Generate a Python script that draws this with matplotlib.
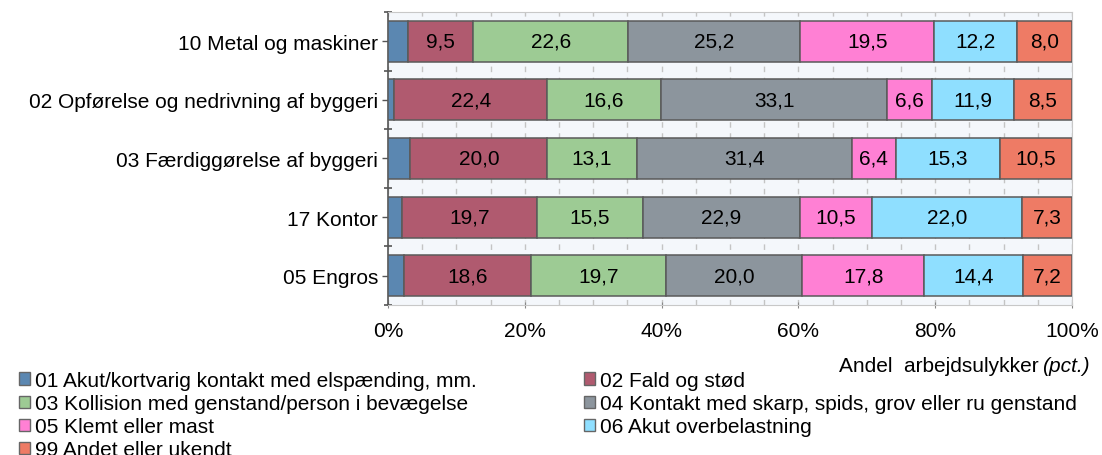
import numpy as np
import matplotlib.pyplot as plt
from matplotlib.patches import Patch

plt.rcParams["font.family"] = ["Liberation Sans", "DejaVu Sans"]

categories = [
    "10 Metal og maskiner",
    "02 Opførelse og nedrivning af byggeri",
    "03 Færdiggørelse af byggeri",
    "17 Kontor",
    "05 Engros",
]
series_names = [
    "01 Akut/kortvarig kontakt med elspænding, mm.",
    "02 Fald og stød",
    "03 Kollision med genstand/person i bevægelse",
    "04 Kontakt med skarp, spids, grov eller ru genstand",
    "05 Klemt eller mast",
    "06 Akut overbelastning",
    "99 Andet eller ukendt",
]
# one list per category, in series order (pct.)
values = {
    "10 Metal og maskiner": [3.0, 9.5, 22.6, 25.2, 19.5, 12.2, 8.0],
    "02 Opførelse og nedrivning af byggeri": [0.9, 22.4, 16.6, 33.1, 6.6, 11.9, 8.5],
    "03 Færdiggørelse af byggeri": [3.3, 20.0, 13.1, 31.4, 6.4, 15.3, 10.5],
    "17 Kontor": [2.1, 19.7, 15.5, 22.9, 10.5, 22.0, 7.3],
    "05 Engros": [2.3, 18.6, 19.7, 20.0, 17.8, 14.4, 7.2],
}
colors = ["#5b87b1", "#b05a6f", "#9dcb94", "#8c959d", "#ff80d4", "#8fdfff", "#ee7b65"]

FS = 15


def main():
    fig = plt.figure(figsize=(11.02, 4.56), dpi=100)
    ax = fig.add_axes([0.352, 0.329, 0.6208, 0.6425])
    ax.set_facecolor("#f4f7fb")

    y = np.arange(len(categories))
    data = np.array([values[c] for c in categories])
    left = np.zeros(len(categories))
    for i, name in enumerate(series_names):
        bars = ax.barh(y, data[:, i], left=left, height=0.7, color=colors[i],
                       edgecolor="#5a5a5a", linewidth=1.1, zorder=3, label=name)
        if i > 0:
            labels = [f"{v:.1f}".replace(".", ",") for v in data[:, i]]
            ax.bar_label(bars, labels=labels, label_type="center", fontsize=FS, zorder=4)
        left += data[:, i]

    ax.set_xlim(0, 100)
    ax.set_ylim(len(categories) - 0.5, -0.5)
    ax.set_yticks(y)
    ax.set_yticklabels(categories, fontsize=FS)
    ax.set_yticks(np.arange(len(categories) + 1) - 0.5, minor=True)
    ax.tick_params(axis="y", which="major", length=4, width=1, color="#555555", pad=3)
    ax.tick_params(axis="y", which="minor", length=6, width=1.2, color="#555555", direction="inout")

    ax.set_xticks(np.arange(0, 101, 20))
    ax.set_xticklabels([f"{v}%" for v in range(0, 101, 20)], fontsize=FS)
    ax.set_xticks(np.arange(0, 101, 5), minor=True)
    ax.tick_params(axis="x", which="major", length=5, color="#888888", pad=9, direction="inout")
    ax.tick_params(axis="x", which="minor", length=0)
    ax.grid(axis="x", which="both", color="#c4c4c4", linestyle=(0, (4, 4)), linewidth=1, zorder=0)

    for side in ["top", "right", "bottom"]:
        ax.spines[side].set_color("#c8c8c8")
    ax.spines["left"].set_color("#555555")
    ax.spines["left"].set_linewidth(1.2)

    # x-axis title: plain part + italic "(pct.)", right aligned
    ty = 1 - 366 / 456
    it = fig.text(1090 / 1102, ty, "(pct.)", ha="right", va="center",
                  fontsize=FS, fontstyle="italic")
    fig.canvas.draw()
    bb = it.get_window_extent().transformed(fig.transFigure.inverted())
    fig.text(bb.x0 - 4 / 1102, ty, "Andel  arbejdsulykker", ha="right", va="center", fontsize=FS)

    handles = [Patch(facecolor=colors[i], edgecolor="#666666", linewidth=1) for i in range(len(series_names))]
    leg_kw = dict(frameon=False, fontsize=FS, handlelength=0.55, handleheight=0.55,
                  handletextpad=0.2, labelspacing=0.2, borderpad=0, borderaxespad=0)
    left_idx = [0, 2, 4, 6]
    right_idx = [1, 3, 5]
    fig.legend([handles[i] for i in left_idx], [series_names[i] for i in left_idx],
               loc="upper left", bbox_to_anchor=(19 / 1102, 1 - 372 / 456), **leg_kw)
    fig.legend([handles[i] for i in right_idx], [series_names[i] for i in right_idx],
               loc="upper left", bbox_to_anchor=(584 / 1102, 1 - 372 / 456), **leg_kw)

    fig.savefig("out.png", dpi=100)
    plt.close(fig)


if __name__ == "__main__":
    main()
